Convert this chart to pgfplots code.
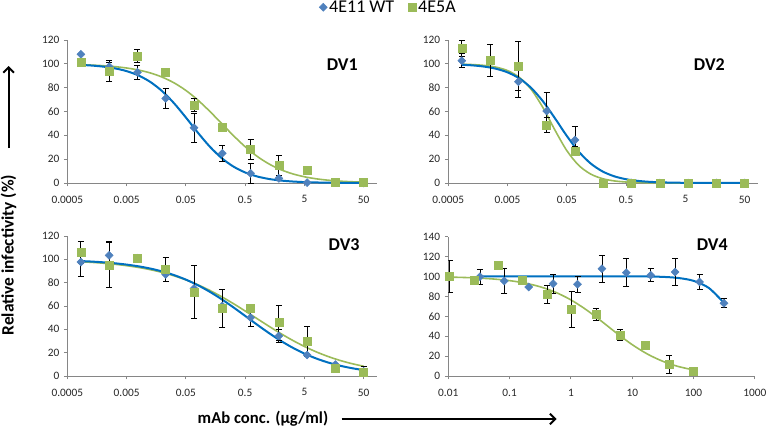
\documentclass[border=0pt]{standalone}
\usepackage{fontspec}
\setmainfont{Carlito}
\usepackage{pgfplots}
\pgfplotsset{compat=1.18}
\usepackage{pgfplotstable}
\usetikzlibrary{arrows.meta}
\definecolor{mblue}{RGB}{79,129,189}
\definecolor{mgreen}{RGB}{155,187,89}
\definecolor{lblue}{RGB}{0,112,192}
\definecolor{axgray}{RGB}{134,134,134}

% points: x, blue value, blue error, green value, green error
\pgfplotstableread{
x b be g ge
0.000847 108 0 100.9 0
0.00254 97.6 5 93.4 7.8
0.00762 92.9 6 106.6 5.6
0.02286 71 8.5 92.9 0
0.0686 46.4 12 65.4 5.6
0.2058 24.9 7 46.4 0
0.6173 8.1 8.4 28.5 8.4
1.852 3.9 0 14.5 8.4
5.556 0.3 0 10.3 0
16.67 0.5 0 0.3 0
50 0 0 0.3 0
}\dvone
\pgfplotstableread{
x b be g ge
0.000847 102.6 6 113 7
0.00254 103 13.5 102.6 0
0.00762 85 13 98.2 20.4
0.02286 60.4 15.4 48.7 6.5
0.0686 36.1 11.7 26.9 3.4
0.2058 0 0 0 0
0.6173 0 0 0 0
1.852 0 0 0 0
5.556 0 0 0 0
16.67 0 0 0 0
50 0 0 0 0
}\dvtwo
\pgfplotstableread{
x b be g ge
0.000847 97.7 12 106.3 9.4
0.00254 103.4 12.3 94.9 19.2
0.00762 101 2.7 100.5 0
0.02286 87.1 5.7 91.4 10
0.0686 75 0 72 22.7
0.2058 60 0 58 16.5
0.6173 50 7.7 57.7 0
1.852 34.3 5.7 45.7 15
5.556 18 0 29.4 13
16.67 9.8 0 6.6 0
50 4 0 3.4 4.6
}\dvthree
\pgfplotstableread{
x b be
0.0328 99.8 7.8
0.0819 95.5 12.5
0.2048 89.4 0
0.512 92.8 9.5
1.28 92.2 7.8
3.2 107.8 13.7
8 103.8 13.9
20 101.2 6.6
50 104.5 13.7
125 94.5 7.6
312.5 73.1 4.5
}\dvfourb
\pgfplotstableread{
x g ge
0.01048576 99.8 16
0.0262144 96.2 0
0.065536 111.3 0
0.16384 96.2 0
0.4096 82.1 9.2
1.024 67 18.4
2.56 62 6.3
6.4 40.9 5.5
16 31.2 0
40 11.8 9.4
100 4.3 0
}\dvfourg
% fitted curves
\pgfplotstableread{
x b1 g1 b2 g2 b3 g3
0.000847 99.08 99.27 99.24 99.68 98.53 97.95
0.001259 98.59 98.97 98.74 99.39 98.11 97.45
0.001995 97.69 98.44 97.73 98.70 97.47 96.71
0.003162 96.22 97.66 95.94 97.26 96.62 95.76
0.005012 93.88 96.50 92.84 94.31 95.49 94.56
0.007943 90.24 94.80 87.70 88.57 94.01 93.04
0.012589 84.78 92.34 79.66 78.38 92.09 91.13
0.019953 77.04 88.83 68.28 62.90 89.61 88.76
0.031623 66.91 84.03 54.19 44.23 86.48 85.87
0.050119 54.93 77.65 39.39 27.06 82.59 82.38
0.079433 42.34 69.66 26.31 14.79 77.85 78.24
0.125893 30.67 60.26 16.41 7.51 72.27 73.44
0.199526 21.05 50.05 9.74 3.66 65.89 68.02
0.316228 13.84 39.83 5.59 1.74 58.89 62.07
0.501187 8.83 30.43 3.15 0.82 51.50 55.72
0.794328 5.51 22.42 1.76 0.39 44.04 49.18
1.258925 3.39 16.03 0.97 0.18 36.85 42.67
1.995262 2.07 11.20 0.54 0.09 30.19 36.41
3.162278 1.26 7.69 0.30 0.04 24.28 30.57
5.011872 0.76 5.22 0.16 0.02 19.20 25.30
7.943282 0.46 3.51 0.09 0.01 14.98 20.66
12.589254 0.28 2.35 0.05 0 11.55 16.69
19.952623 0.17 1.56 0.03 0 8.83 13.35
31.622777 0.10 1.04 0.02 0 6.70 10.59
50 0.06 0.69 0.01 0 5.06 8.36
}\fits
\pgfplotstableread{
x g
0.01048576 99.36
0.017783 99.01
0.031623 98.39
0.056234 97.40
0.1 95.83
0.177828 93.38
0.316228 89.63
0.562341 84.12
1 76.46
1.778279 66.57
3.162278 54.98
5.623413 42.81
10 31.46
17.782794 21.96
31.622777 14.71
56.234133 9.56
100 6.09
}\fitfourg
\pgfplotstableread{
x b
0.0328 100.2
0.3 100.2
1 100.2
3.162278 100.2
10 100.1
17.782794 99.98
31.622777 99.6
56.234133 98.5
100 95.6
177.827941 88.4
312.5 73.4
}\fitfourb

\pgfplotsset{
  panel/.style={
    scale only axis,
    axis x line*=bottom, axis y line*=left,
    axis line style={axgray, line width=0.75pt, -},
    tick style={axgray, line width=0.75pt},
    tick align=outside, major tick length=2.5pt,
    xminorticks=false, ymin=0, ytick distance=20,
    tick label style={font=\fontsize{8.5}{10}\selectfont, text=black!85},
    xticklabel style={yshift=-3.5pt},
  },
  bpts/.style={only marks, mark=square*, mark size=2.1pt,
    mark options={rotate=45, fill=mblue, draw=mblue},
    error bars/y dir=both, error bars/y explicit,
    error bars/error bar style={black, line width=0.6pt},
    error bars/error mark options={black, line width=0.6pt, mark size=2.25pt, rotate=90}},
  gpts/.style={only marks, mark=square*, mark size=3pt,
    mark options={fill=mgreen, draw=mgreen},
    error bars/y dir=both, error bars/y explicit,
    error bars/error bar style={black, line width=0.6pt},
    error bars/error mark options={black, line width=0.6pt, mark size=2.25pt, rotate=90}},
  bfit/.style={lblue, line width=1.5pt, smooth, no markers, forget plot},
  gfit/.style={mgreen, line width=1.2pt, smooth, no markers, forget plot},
}
\tikzset{ttl/.style={font=\bfseries\fontsize{13.5}{16}\selectfont}}

\begin{document}
\begin{tikzpicture}
\useasboundingbox (0,0) rectangle (576pt,322.5pt);

% DV1
\begin{axis}[panel, xmode=log, /pgf/number format/assume math mode=true,
  at={(50.5pt,185.25pt)}, anchor=south west,
  width=232.5pt, height=107.25pt, xmin=0.0005, xmax=85, ymax=120,
  xtick={0.0005,0.005,0.05,0.5,5,50}, xticklabels={0.0005,0.005,0.05,0.5,5,50},
  legend columns=2,
  legend image code/.code={\draw[mark repeat=2,mark phase=2,#1] plot coordinates {(0cm,0cm) (0.1cm,0cm) (0.2cm,0cm)};},
  legend style={draw=none, fill=none, at={(1.036,1.2287)}, anchor=center,
    font=\fontsize{13.5}{15}\selectfont,
    nodes={inner sep=1.5pt},
    /tikz/every even column/.append style={column sep=9pt}}]
\addplot[gfit] table[x=x,y=g1] {\fits};
\addplot[bfit] table[x=x,y=b1] {\fits};
\addplot[bpts] table[x=x,y=b,y error=be] {\dvone};
\addlegendentry{4E11 WT}
\addplot[gpts] table[x=x,y=g,y error=ge] {\dvone};
\addlegendentry{4E5A}
\node[ttl] at (rel axis cs:0.887,0.829) {DV1};
\end{axis}

% DV2
\begin{axis}[panel, xmode=log, /pgf/number format/assume math mode=true,
  at={(336.2pt,185.25pt)}, anchor=south west,
  width=232.6pt, height=107.25pt, xmin=0.0005, xmax=85, ymax=120,
  xtick={0.0005,0.005,0.05,0.5,5,50}, xticklabels={0.0005,0.005,0.05,0.5,5,50}]
\addplot[gfit] table[x=x,y=g2] {\fits};
\addplot[bfit] table[x=x,y=b2] {\fits};
\addplot[bpts] table[x=x,y=b,y error=be] {\dvtwo};
\addplot[gpts] table[x=x,y=g,y error=ge] {\dvtwo};
\node[ttl] at (rel axis cs:0.842,0.829) {DV2};
\end{axis}

% DV3
\begin{axis}[panel, xmode=log, /pgf/number format/assume math mode=true,
  at={(50.5pt,40.5pt)}, anchor=south west,
  width=232.5pt, height=105pt, xmin=0.0005, xmax=85, ymax=120,
  xtick={0.0005,0.005,0.05,0.5,5,50}, xticklabels={0.0005,0.005,0.05,0.5,5,50}]
\addplot[gfit] table[x=x,y=g3] {\fits};
\addplot[bfit] table[x=x,y=b3] {\fits};
\addplot[bpts] table[x=x,y=b,y error=be] {\dvthree};
\addplot[gpts] table[x=x,y=g,y error=ge] {\dvthree};
\node[ttl] at (rel axis cs:0.893,0.936) {DV3};
\end{axis}

% DV4
\begin{axis}[panel, xmode=log, /pgf/number format/assume math mode=true,
  at={(336.2pt,40.5pt)}, anchor=south west,
  width=230pt, height=104.5pt, xmin=0.01, xmax=1000, ymax=140,
  xtick={0.01,0.1,1,10,100,1000}, xticklabels={0.01,0.1,1,10,100,1000}]
\addplot[gfit] table[x=x,y=g] {\fitfourg};
\addplot[bfit] table[x=x,y=b] {\fitfourb};
\addplot[bpts] table[x=x,y=b,y error=be] {\dvfourb};
\addplot[gpts] table[x=x,y=g,y error=ge] {\dvfourg};
\node[ttl] at (rel axis cs:0.861,0.940) {DV4};
\end{axis}

% axis titles with arrows
\node[rotate=90, font=\bfseries\fontsize{13}{15}\selectfont] at (6.5pt,131.25pt) {Relative infectivity (\%)};
\draw[line width=1.5pt, -{Straight Barb[length=4pt,width=8pt]}] (6.5pt,211.5pt) -- (6.5pt,273pt);
\node[font=\bfseries\fontsize{12.5}{15}\selectfont] at (197.25pt,8.25pt) {mAb conc. (µg/ml)};
\draw[line width=1.5pt, -{Straight Barb[length=4pt,width=8pt]}] (256.3pt,8.25pt) -- (417.5pt,8.25pt);
\end{tikzpicture}
\end{document}
